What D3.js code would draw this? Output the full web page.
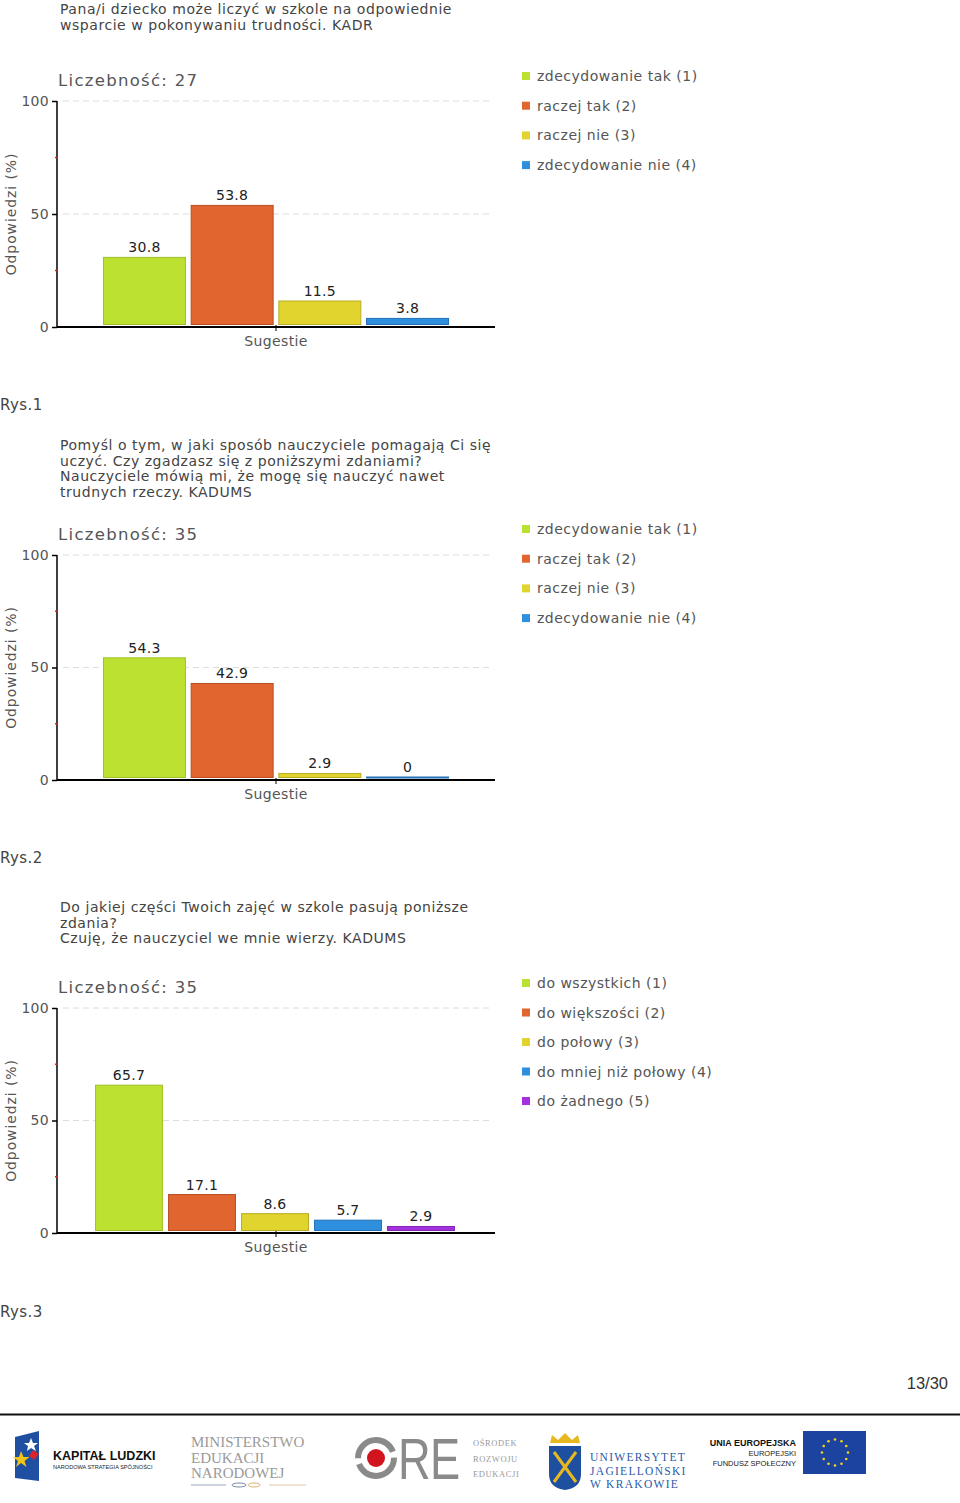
<!DOCTYPE html>
<html>
<head>
<meta charset="utf-8">
<script src="https://cdn.jsdelivr.net/npm/d3@7"></script>
<style>
  html, body { margin: 0; padding: 0; background: #fff; }
  svg { display: block; font-family: "DejaVu Sans", Verdana, sans-serif; }
</style>
</head>
<body>
<svg id="page" width="960" height="1503"></svg>
<script>
// ---------- DATA ----------
const titles1 = ["Pana/i dziecko może liczyć w szkole na odpowiednie", "wsparcie w pokonywaniu trudności. KADR"];
const titles2 = ["Pomyśl o tym, w jaki sposób nauczyciele pomagają Ci się", "uczyć. Czy zgadzasz się z poniższymi zdaniami?", "Nauczyciele mówią mi, że mogę się nauczyć nawet", "trudnych rzeczy. KADUMS"];
const titles3 = ["Do jakiej części Twoich zajęć w szkole pasują poniższe", "zdania?", "Czuję, że nauczyciel we mnie wierzy. KADUMS"];
const counts = [27, 35, 35];
const categories1 = ["zdecydowanie tak (1)", "raczej tak (2)", "raczej nie (3)", "zdecydowanie nie (4)"];
const values1 = [30.8, 53.8, 11.5, 3.8];
const categories2 = ["zdecydowanie tak (1)", "raczej tak (2)", "raczej nie (3)", "zdecydowanie nie (4)"];
const values2 = [54.3, 42.9, 2.9, 0];
const categories3 = ["do wszystkich (1)", "do większości (2)", "do połowy (3)", "do mniej niż połowy (4)", "do żadnego (5)"];
const values3 = [65.7, 17.1, 8.6, 5.7, 2.9];
const yTickValues = [0, 50, 100];
const yMinorTicks = [25, 75];
const gridValues = [50, 100];
const figureLabels = ["Rys.1", "Rys.2", "Rys.3"];
const pageNumber = "13/30";
const xAxisLabel = "Sugestie";
const yAxisLabel = "Odpowiedzi (%)";

// ---------- STYLE / LAYOUT ----------
const colors = ["#bde130", "#e0652f", "#e1d42e", "#2e8fde", "#a531de"];
const strokes = ["#9fbf24", "#b84e22", "#b9ad22", "#2170b5", "#8225b5"];
const SANS = "Liberation Sans, Arial, sans-serif";
const SERIF = "Liberation Serif, Times New Roman, serif";

const charts = [
  { titles: titles1, titleY: 14, count: counts[0], cats: categories1, vals: values1, top: 101, bottom: 327, band: [100.6, 451.4], pad: 0.054, rys: 410, legendY: 75, legendStep: 29.7 },
  { titles: titles2, titleY: 450, count: counts[1], cats: categories2, vals: values2, top: 555, bottom: 780, band: [100.6, 451.4], pad: 0.054, rys: 863, legendY: 528, legendStep: 29.7 },
  { titles: titles3, titleY: 912, count: counts[2], cats: categories3, vals: values3, top: 1008, bottom: 1233, band: [92.5, 457.5], pad: 0.07, rys: 1317, legendY: 982, legendStep: 29.5 }
];

const svg = d3.select("#page");
const axisX = 57, axisRight = 495, tickCenter = 276;

charts.forEach((c, ci) => {
  const g = svg.append("g");
  // titles
  g.selectAll("text.title").data(c.titles).join("text")
    .attr("class", "title")
    .attr("x", 60).attr("y", (d, i) => c.titleY + i * 15.5)
    .attr("font-size", 14).attr("fill", "#444").attr("letter-spacing", 0.55)
    .text(d => d);

  const y = d3.scaleLinear().domain([0, 100]).range([c.bottom, c.top]);
  const x = d3.scaleBand().domain(c.cats).range(c.band).paddingInner(c.pad).paddingOuter(c.pad / 2);

  // Liczebność
  g.append("text").attr("x", 58).attr("y", c.top - 15)
    .attr("font-size", 16.5).attr("fill", "#555").attr("letter-spacing", 1.3)
    .text("Liczebność: " + c.count);

  // gridlines
  g.selectAll("line.grid").data(gridValues).join("line")
    .attr("x1", 63).attr("x2", 490)
    .attr("y1", d => y(d)).attr("y2", d => y(d))
    .attr("stroke", "#dcdcdc").attr("stroke-dasharray", "6,4").attr("stroke-width", 1);

  // y axis
  const yAxis = d3.axisLeft(y).tickValues(yTickValues).tickSize(5).tickPadding(3);
  const ya = g.append("g").attr("transform", `translate(${axisX},0)`).call(yAxis);
  ya.attr("font-family", null).attr("font-size", null);
  ya.select(".domain").attr("stroke", "#000").attr("stroke-width", 1.5).attr("d", `M0,${c.bottom}V${c.top}`);
  ya.selectAll(".tick line").attr("stroke", "#000").attr("stroke-width", 1.5);
  ya.selectAll(".tick text").attr("font-size", 14).attr("fill", "#555").attr("letter-spacing", 0.3);

  // minor red ticks
  g.selectAll("line.minor").data(yMinorTicks).join("line")
    .attr("x1", axisX - 2).attr("x2", axisX + 0.5)
    .attr("y1", d => y(d)).attr("y2", d => y(d))
    .attr("stroke", "#e02020").attr("stroke-width", 1.5);

  // bars
  g.selectAll("rect.bar").data(c.vals).join("rect")
    .attr("class", "bar")
    .attr("x", (d, i) => x(c.cats[i]) + 0.5)
    .attr("width", x.bandwidth() - 1)
    .attr("y", d => Math.min(y(d), y(0) - 3))
    .attr("height", d => Math.max(1, y(0) - 2.5 - Math.min(y(d), y(0) - 3)))
    .attr("fill", (d, i) => colors[i])
    .attr("stroke", (d, i) => strokes[i]).attr("stroke-width", 1);

  // value labels
  g.selectAll("text.val").data(c.vals).join("text")
    .attr("x", (d, i) => x(c.cats[i]) + x.bandwidth() / 2)
    .attr("y", d => Math.min(y(d), y(0) - 3) - 5)
    .attr("text-anchor", "middle").attr("font-size", 14).attr("fill", "#222").attr("letter-spacing", 0.3)
    .text(d => d);

  // x axis
  g.append("line").attr("x1", axisX).attr("x2", axisRight)
    .attr("y1", y(0)).attr("y2", y(0)).attr("stroke", "#000").attr("stroke-width", 2);
  g.append("line").attr("x1", tickCenter).attr("x2", tickCenter)
    .attr("y1", y(0) - 2).attr("y2", y(0) + 4).attr("stroke", "#000").attr("stroke-width", 1);
  g.append("text").attr("x", tickCenter).attr("y", y(0) + 19)
    .attr("text-anchor", "middle").attr("font-size", 14).attr("fill", "#555").attr("letter-spacing", 0.4)
    .text(xAxisLabel);

  // y axis label
  const midY = (c.top + c.bottom) / 2;
  g.append("text").attr("transform", `translate(16,${midY}) rotate(-90)`)
    .attr("text-anchor", "middle").attr("font-size", 14).attr("fill", "#555").attr("letter-spacing", 0.9)
    .text(yAxisLabel);

  // legend
  const lg = g.selectAll("g.leg").data(c.cats).join("g")
    .attr("transform", (d, i) => `translate(522,${c.legendY + i * c.legendStep})`);
  lg.append("rect").attr("x", 0).attr("y", -3).attr("width", 8).attr("height", 8)
    .attr("fill", (d, i) => colors[i]);
  lg.append("text").attr("x", 15).attr("y", 6).attr("font-size", 14).attr("fill", "#555").attr("letter-spacing", 0.5)
    .text(d => d);

  // figure label
  g.append("text").attr("x", 0).attr("y", c.rys).attr("font-size", 15).attr("fill", "#444").attr("letter-spacing", 0.4)
    .text(figureLabels[ci]);
});

// page number
svg.append("text").attr("x", 948).attr("y", 1389).attr("text-anchor", "end")
  .style("font-family", SANS).attr("font-size", 16.5).attr("fill", "#333")
  .text(pageNumber);

// footer rule
svg.append("line").attr("x1", 0).attr("x2", 960).attr("y1", 1414.5).attr("y2", 1414.5)
  .attr("stroke", "#111").attr("stroke-width", 2);

// ---------- FOOTER LOGOS ----------
const f = svg.append("g");
// Kapitał Ludzki
f.append("path").attr("d", "M15,1437 L39,1431 L39,1481 L15,1478 Z").attr("fill", "#1f4fa0");
f.append("path").attr("d", "M31,1438 l2,5 5,0 -4,3 2,5 -5,-3 -4,3 1,-5 -4,-3 5,0 z").attr("fill", "#fff");
f.append("path").attr("d", "M21,1451 l2.5,6 6,0 -5,4 2,6 -5.5,-4 -5,4 2,-6 -5,-4 6,0 z").attr("fill", "#f2c318");
f.append("path").attr("d", "M33,1450 l6,4 -5,6 -5,-4 z").attr("fill", "#d8262c");
f.append("text").attr("x", 53).attr("y", 1460).style("font-family", SANS)
  .attr("font-weight", "bold").attr("font-size", 12.5).attr("fill", "#111").text("KAPITAŁ LUDZKI");
f.append("text").attr("x", 53).attr("y", 1469).style("font-family", SANS)
  .attr("font-size", 5.6).attr("fill", "#222").text("NARODOWA STRATEGIA SPÓJNOŚCI");

// MEN
["MINISTERSTWO", "EDUKACJI", "NARODOWEJ"].forEach((t, i) => {
  f.append("text").attr("x", 191).attr("y", 1447 + i * 15.5).style("font-family", SERIF)
    .attr("font-size", 15).attr("fill", "#9a9a9a").text(t);
});
f.append("line").attr("x1", 191).attr("x2", 226).attr("y1", 1485).attr("y2", 1485).attr("stroke", "#9aa6b8");
f.append("line").attr("x1", 269).attr("x2", 306).attr("y1", 1485).attr("y2", 1485).attr("stroke", "#e0c8a8");
f.append("ellipse").attr("cx", 239).attr("cy", 1485).attr("rx", 7).attr("ry", 2).attr("fill", "none").attr("stroke", "#7a8aa8");
f.append("ellipse").attr("cx", 254).attr("cy", 1485).attr("rx", 6).attr("ry", 2).attr("fill", "none").attr("stroke", "#e0b070");

// ORE
f.append("circle").attr("cx", 376).attr("cy", 1458).attr("r", 18).attr("fill", "none")
  .attr("stroke", "#8a8a8a").attr("stroke-width", 6).attr("stroke-dasharray", "50,6");
f.append("circle").attr("cx", 376).attr("cy", 1458).attr("r", 9).attr("fill", "#d2141e");
f.append("text").attr("transform", "translate(398,1479) scale(0.78,1)").style("font-family", SANS)
  .attr("font-size", 58).attr("fill", "#8a8a8a").attr("letter-spacing", -1).text("RE");
["OŚRODEK", "ROZWOJU", "EDUKACJI"].forEach((t, i) => {
  f.append("text").attr("x", 473).attr("y", 1446 + i * 15.5).style("font-family", SERIF)
    .attr("font-size", 8.5).attr("fill", "#9a9a9a").attr("letter-spacing", 0.6).text(t);
});

// UJ
f.append("path").attr("d", "M550,1443 L552,1435 L558,1440 L565,1433 L572,1440 L578,1435 L580,1443 Z").attr("fill", "#e8b820");
f.append("path").attr("d", "M549,1446 L581,1446 L581,1474 Q581,1488 565,1490 Q549,1488 549,1474 Z").attr("fill", "#1f4f9f");
f.append("line").attr("x1", 554).attr("y1", 1452).attr("x2", 576).attr("y2", 1482).attr("stroke", "#e8b820").attr("stroke-width", 3);
f.append("line").attr("x1", 576).attr("y1", 1452).attr("x2", 554).attr("y2", 1482).attr("stroke", "#e8b820").attr("stroke-width", 3);
["UNIWERSYTET", "JAGIELLOŃSKI", "W KRAKOWIE"].forEach((t, i) => {
  f.append("text").attr("x", 590).attr("y", 1461 + i * 13.5).style("font-family", SERIF)
    .attr("font-size", 11.5).attr("fill", "#2a5aa8").attr("letter-spacing", 1.3).text(t);
});

// EU
f.append("text").attr("x", 796).attr("y", 1446).attr("text-anchor", "end").style("font-family", SANS)
  .attr("font-weight", "bold").attr("font-size", 9).attr("fill", "#111").text("UNIA EUROPEJSKA");
f.append("text").attr("x", 796).attr("y", 1456).attr("text-anchor", "end").style("font-family", SANS)
  .attr("font-size", 7.5).attr("fill", "#222").text("EUROPEJSKI");
f.append("text").attr("x", 796).attr("y", 1466).attr("text-anchor", "end").style("font-family", SANS)
  .attr("font-size", 7.5).attr("fill", "#222").text("FUNDUSZ SPOŁECZNY");
f.append("rect").attr("x", 803).attr("y", 1431).attr("width", 63).attr("height", 43).attr("fill", "#1d43a0");
d3.range(12).forEach(k => {
  const a = k * Math.PI / 6;
  f.append("circle").attr("cx", 835 + 13 * Math.cos(a)).attr("cy", 1452.5 + 13 * Math.sin(a)).attr("r", 1.3).attr("fill", "#f7d418");
});
</script>
</body>
</html>
